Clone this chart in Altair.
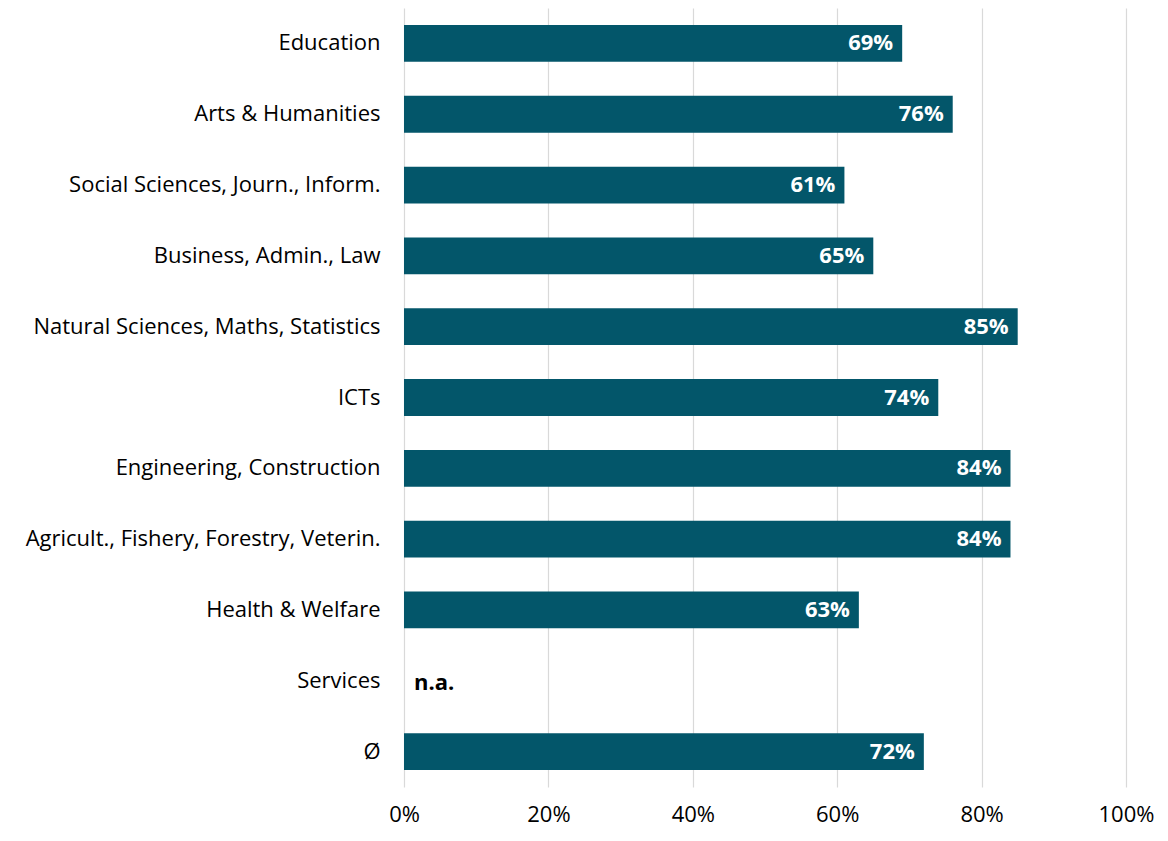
import altair as alt
import pandas as pd

categories = ["Education", "Arts & Humanities", "Social Sciences, Journ., Inform.",
              "Business, Admin., Law", "Natural Sciences, Maths, Statistics", "ICTs",
              "Engineering, Construction", "Agricult., Fishery, Forestry, Veterin.",
              "Health & Welfare", "Services", "Ø"]
values = [0.69, 0.76, 0.61, 0.65, 0.85, 0.74, 0.84, 0.84, 0.63, None, 0.72]
labels = ["69%", "76%", "61%", "65%", "85%", "74%", "84%", "84%", "63%", "n.a.", "72%"]

df = pd.DataFrame({"cat": categories, "val": values, "lab": labels})
df_vals = df[df["val"].notna()]
df_na = df[df["val"].isna()].assign(zero=0.0)

FONT = "Open Sans"
COLOR = "#03566a"

y = alt.Y("cat:N", sort=categories, title=None,
          scale=alt.Scale(paddingInner=0.48, paddingOuter=0.24),
          axis=alt.Axis(ticks=False, domain=False, labelFontSize=22, labelFont=FONT,
                        labelColor="#000000", labelPadding=24, labelLimit=420))
x = alt.X("val:Q", title=None,
          scale=alt.Scale(domain=[0, 1], nice=False),
          axis=alt.Axis(format="%", values=[0, 0.2, 0.4, 0.6, 0.8, 1.0], ticks=False,
                        domain=False, grid=True, gridColor="#d9d9d9", gridWidth=1.2,
                        labelFontSize=22, labelFont=FONT, labelColor="#000000",
                        labelPadding=17, labelFlush=False))

bars = alt.Chart(df_vals).mark_bar(color=COLOR).encode(x=x, y=y)

txt = alt.Chart(df_vals).mark_text(align="right", baseline="middle", dx=-9, dy=0,
                                   color="white", fontWeight="bold", fontSize=22,
                                   font=FONT).encode(
    x=alt.X("val:Q"), y=alt.Y("cat:N", sort=categories), text="lab:N")

na = alt.Chart(df_na).mark_text(align="left", baseline="middle", dx=10, dy=2,
                                color="black", fontWeight="bold", fontSize=22,
                                font=FONT).encode(
    x=alt.X("zero:Q"), y=alt.Y("cat:N", sort=categories), text="lab:N")

chart = alt.layer(bars, txt, na).properties(
    width=722, height=779, padding={"left": 17, "top": 0, "right": 0, "bottom": 9}
).configure_view(stroke=None)

chart.save("out.html", embed_options={"renderer": "svg", "actions": False})
